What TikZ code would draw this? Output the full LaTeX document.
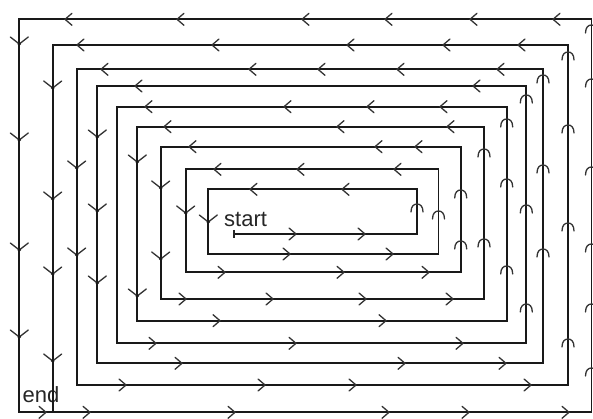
\documentclass[tikz,border=0pt]{standalone}
\usepackage{fontspec}
\setmainfont{Liberation Sans}
\begin{document}
\begin{tikzpicture}[x=1pt,y=-1pt,
  spiral/.style={line width=1.9pt, draw=black!90, line join=miter},
  tickline/.style={line width=1.3pt, draw=black!80, line cap=round},
  lbl/.style={anchor=base west, inner sep=0pt, font=\fontsize{22}{25}\selectfont, text=black!85},
  larr/.pic={\draw[tickline] (7,-6) -- (0,0) -- (7,6);},
  rarr/.pic={\draw[tickline] (-7,-6) -- (0,0) -- (-7,6);},
  darr/.pic={\draw[tickline] (-9,-7) -- (0,0) -- (9,-7); \fill[black!90] (0,0) circle (1.9pt);},
  uarr/.pic={\draw[tickline] (-6,8) .. controls (-6,2) and (-3,0) .. (0,0) .. controls (3,0) and (6,2) .. (6,8);}
]
\fill[white] (0,0) rectangle (593,419);
\useasboundingbox (0,0) rectangle (593,419);

% labels
\node[lbl] (st) at (224,226) {start};
\node[lbl] (en) at (22.5,402) {end};

% corners of the spiral
\coordinate (s)   at (234,234);
\coordinate (c1)  at (417,234);
\coordinate (c2)  at (417,189.3);
\coordinate (c3)  at (208.3,189.3);
\coordinate (c4)  at (208.3,254);
\coordinate (c5)  at (438.5,254);
\coordinate (c6)  at (438.5,169.3);
\coordinate (c7)  at (185.7,169.3);
\coordinate (c8)  at (185.7,272.3);
\coordinate (c9)  at (460.7,272.3);
\coordinate (c10) at (460.7,146.7);
\coordinate (c11) at (160.7,146.7);
\coordinate (c12) at (160.7,299);
\coordinate (c13) at (484,299);
\coordinate (c14) at (484,126.7);
\coordinate (c15) at (137.3,126.7);
\coordinate (c16) at (137.3,320.7);
\coordinate (c17) at (506.7,320.7);
\coordinate (c18) at (506.7,106.7);
\coordinate (c19) at (116.7,106.7);
\coordinate (c20) at (116.7,343.3);
\coordinate (c21) at (526.3,343.3);
\coordinate (c22) at (526.3,86);
\coordinate (c23) at (97.3,86);
\coordinate (c24) at (97.3,363.3);
\coordinate (c25) at (543,363.3);
\coordinate (c26) at (543,69.3);
\coordinate (c27) at (76.7,69.3);
\coordinate (c28) at (76.7,385);
\coordinate (c29) at (568,385);
\coordinate (c30) at (568,45);
\coordinate (c31) at (52.7,45);
\coordinate (c32) at (52.7,412.3);
\coordinate (c33) at (591.5,412.3);
\coordinate (c34) at (591.5,19.3);
\coordinate (c35) at (19.3,19.3);
\coordinate (c36) at (19.3,412.3);

\draw[spiral] (s) -- (c1) -- (c2) -- (c3) -- (c4) -- (c5) -- (c6) -- (c7) -- (c8)
  -- (c9) -- (c10) -- (c11) -- (c12) -- (c13) -- (c14) -- (c15) -- (c16)
  -- (c17) -- (c18) -- (c19) -- (c20) -- (c21) -- (c22) -- (c23) -- (c24)
  -- (c25) -- (c26) -- (c27) -- (c28) -- (c29) -- (c30) -- (c31) -- (c32)
  -- (c33) -- (c34) -- (c35) -- (c36) -- (c32);

% start tick
\draw[line width=1.3pt, black!85] ([yshift=4pt]s) -- ([yshift=-4pt]s);

% arrows pointing left (top sides)
\foreach \x/\y in {65/19.3,177/19.3,302/19.3,385/19.3,470/19.3,553/19.3,
  77/45,212/45,347/45,443/45,518/45,
  101/69.3,249/69.3,318/69.3,397/69.3,497/69.3,
  135/86,473/86,
  145/106.7,284/106.7,367/106.7,440/106.7,
  164/126.7,337/126.7,447/126.7,
  189/146.7,375/146.7,415/146.7,
  214/169.3,297/169.3,394/169.3,
  250/189.3,342/189.3}
  \pic at (\x,\y) {larr};

% arrows pointing right (bottom sides)
\foreach \x/\y in {296/234,365/234,
  290/254,393/254,
  225/272.3,344/272.3,429/272.3,
  186/299,273/299,366/299,453/299,
  220/320.7,386/320.7,
  156/343.3,296/343.3,463/343.3,
  182/363.3,405/363.3,506/363.3,
  126/385,265/385,356/385,531/385,
  46/412.3,90/412.3,235/412.3,389/412.3,469/412.3,569/412.3}
  \pic at (\x,\y) {rarr};

% arrows pointing down (left sides)
\foreach \x/\y in {19.3/44,19.3/140,19.3/250,19.3/337,
  52.7/88,52.7/199,52.7/274,52.7/361,
  76.7/168,76.7/255,
  97.3/137,97.3/211,97.3/283,
  137.3/162,137.3/296,
  160.7/188,160.7/259,
  185.7/213,
  208.3/222}
  \pic at (\x,\y) {darr};

% arrows pointing up (right sides)
\foreach \x/\y in {417/204,
  438.5/211,
  460.7/190,460.7/241,
  484/149,484/239,
  506.7/119,506.7/179,506.7/266,
  526.3/95,526.3/205,526.3/304,
  543/75,543/165,543/249,
  568/52,568/125,568/223,568/339,
  591.5/25,591.5/79,591.5/167,591.5/244,591.5/304,591.5/368}
  \pic at (\x,\y) {uarr};
\end{tikzpicture}
\end{document}
